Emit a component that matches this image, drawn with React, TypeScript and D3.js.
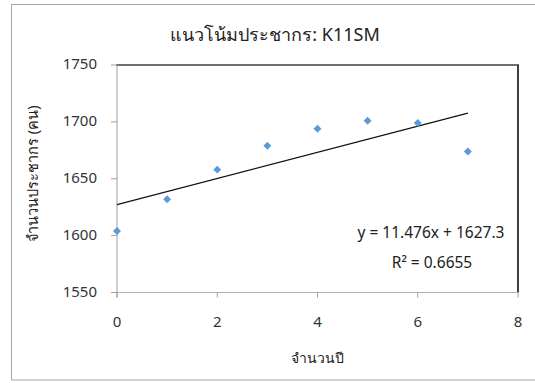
import React from "react";
import * as d3 from "d3";

const years = [0, 1, 2, 3, 4, 5, 6, 7];
const population = [1604, 1632, 1658, 1679, 1694, 1701, 1699, 1674];
const xTicks = [0, 2, 4, 6, 8];
const yTicks = [1550, 1600, 1650, 1700, 1750];
const slope = 11.476;
const intercept = 1627.3;
const titleText = "แนวโน้มประชากร: K11SM";
const xTitle = "จำนวนปี";
const yTitle = "จำนวนประชากร (คน)";
const eqText = "y = 11.476x + 1627.3";
const r2Text = "R² = 0.6655";

const W = 535;
const H = 383;
const left = 117;
const right = 518;
const top = 65;
const bottom = 292.5;
const font = "'Noto Sans', 'Open Sans', sans-serif";

export default function App() {
  const x = d3.scaleLinear().domain([0, 8]).range([left, right]);
  const y = d3.scaleLinear().domain([1550, 1750]).range([bottom, top]);
  const trend = d3.line<number>().x((d) => x(d)).y((d) => y(slope * d + intercept));
  const diamond = d3.symbol().type(d3.symbolDiamond2).size(40)();
  return (
    <svg width={W} height={H} style={{ position: "absolute", left: 0, top: 0, background: "#fff" }}>
      <rect x={11.5} y={4.5} width={W + 10} height={375.5} fill="#fff" stroke="#a6a6a6" strokeWidth={1} />
      <text x={275} y={41} textAnchor="middle" fontFamily={font} fontSize={18} fill="#222">{titleText}</text>
      <line x1={left - 1} x2={right + 1} y1={top} y2={top} stroke="#404040" strokeWidth={1.5} />
      <line x1={right} x2={right} y1={top} y2={bottom} stroke="#404040" strokeWidth={2} />
      <line x1={left} x2={left} y1={top} y2={bottom + 5} stroke="#a0a0a0" strokeWidth={1} />
      <line x1={left - 6} x2={right} y1={bottom} y2={bottom} stroke="#b0b0b0" strokeWidth={1} />
      {yTicks.map((t) => (
        <g key={"y" + t}>
          <line x1={left - 6} x2={left} y1={y(t)} y2={y(t)} stroke="#a0a0a0" />
          <text x={97} y={y(t) - 1} dy="0.35em" textAnchor="end" fontFamily={font} fontSize={15} fill="#333">{t}</text>
        </g>
      ))}
      {xTicks.map((t) => (
        <g key={"x" + t}>
          <line x1={x(t)} x2={x(t)} y1={bottom} y2={bottom + 5} stroke="#a0a0a0" />
          <text x={x(t)} y={322} dy="0.35em" textAnchor="middle" fontFamily={font} fontSize={15} fill="#333">{t}</text>
        </g>
      ))}
      <path d={trend([0, 7]) || ""} stroke="#111" strokeWidth={1.2} fill="none" />
      {years.map((yr, i) => (
        <path key={"p" + yr} d={diamond || ""} transform={`translate(${x(yr)},${y(population[i])})`} fill="#5B9BD5" />
      ))}
      <text x={431} y={233} dy="0.35em" textAnchor="middle" fontFamily={font} fontSize={15.5} fill="#222">{eqText}</text>
      <text x={432} y={263} dy="0.35em" textAnchor="middle" fontFamily={font} fontSize={15.5} fill="#222">{r2Text}</text>
      <text x={317} y={358} dy="0.35em" textAnchor="middle" fontFamily={font} fontSize={14} fill="#222">{xTitle}</text>
      <text transform={`translate(33,${(top + bottom) / 2 - 5}) rotate(-90)`} dy="0.35em" textAnchor="middle" fontFamily={font} fontSize={14.5} fill="#222">{yTitle}</text>
    </svg>
  );
}
